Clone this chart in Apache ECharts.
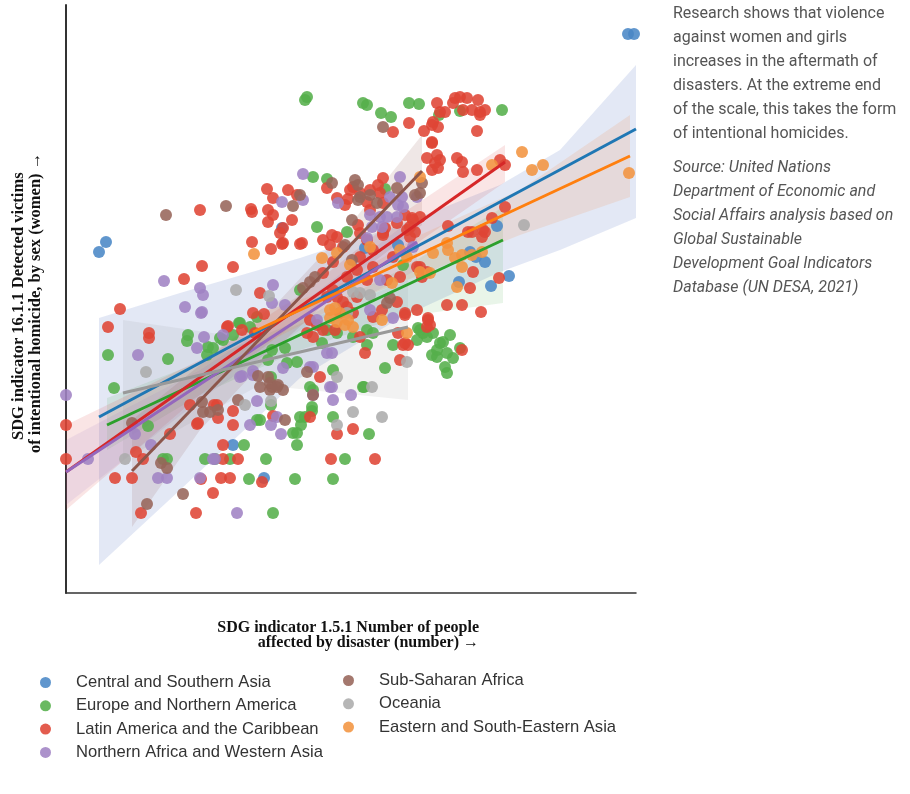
<!DOCTYPE html>
<html><head><meta charset="utf-8">
<script src="https://cdn.jsdelivr.net/npm/echarts@6/dist/echarts.min.js"></script>
<style>html,body{margin:0;padding:0;background:#fff}#c{width:910px;height:794px}</style>
</head><body><div id="c"></div>
<script>
// Region names (legend columns)
const legendCol1 = ['Central and Southern Asia','Europe and Northern America','Latin America and the Caribbean','Northern Africa and Western Asia'];
const legendCol2 = ['Sub-Saharan Africa','Oceania','Eastern and South-Eastern Asia'];

// Scatter values [disaster-affected index, homicide index] (arbitrary unlabeled units)
const csaPoints = [[99,348],[106,358],[628,566],[634,566],[282,372],[233,155],[264,122],[497,374],[470,348],[476,343],[485,338],[459,318],[491,314],[509,324],[398,355],[365,352]];
const enaPoints = [[305,500],[307,503],[363,497],[367,495],[381,487],[391,483],[409,497],[419,496],[460,489],[502,490],[439,485],[313,423],[327,421],[317,373],[347,368],[385,411],[188,265],[187,259],[240,277],[250,273],[220,262],[208,253],[257,283],[108,245],[168,241],[114,212],[148,174],[163,141],[167,141],[205,141],[230,141],[244,155],[249,121],[266,141],[273,87],[257,180],[271,195],[271,223],[310,213],[364,213],[312,189],[305,183],[301,175],[297,167],[293,167],[297,155],[333,183],[369,166],[215,141],[345,141],[295,121],[333,121],[300,310],[239,277],[233,265],[223,260],[213,252],[207,245],[285,252],[272,250],[297,238],[268,240],[287,237],[322,257],[337,267],[327,270],[353,263],[367,270],[373,267],[367,255],[393,255],[385,232],[363,213],[333,230],[313,210],[312,193],[300,183],[260,180],[420,270],[433,267],[427,263],[437,243],[440,257],[417,260],[418,272],[423,267],[450,265],[443,258],[437,250],[432,245],[447,247],[453,242],[460,252],[445,233],[447,227],[403,335]];
const lacPoints = [[455,502],[460,503],[467,502],[478,500],[453,497],[437,497],[440,488],[445,488],[463,490],[472,490],[480,488],[485,490],[480,485],[433,478],[438,473],[432,475],[409,477],[393,468],[424,469],[477,469],[432,458],[427,442],[437,445],[440,440],[435,437],[432,430],[438,432],[457,442],[462,438],[463,428],[477,430],[500,440],[505,435],
[383,422],[378,415],[370,410],[380,407],[353,413],[350,410],[360,407],[327,412],[288,410],[297,405],[273,402],[348,401],[345,395],[337,402],[367,398],[370,390],[383,397],[405,385],[397,377],[412,382],[420,383],[410,373],[415,368],[385,372],[383,367],[358,375],[360,367],[367,360],[332,365],[323,360],[302,357],[283,372],[280,367],[283,357],[292,380],[273,385],[448,374],[468,368],[483,370],[505,393],[482,363],
[267,411],[251,391],[252,388],[268,390],[268,378],[200,390],[252,358],[271,351],[202,334],[233,333],[184,321],[120,291],[108,273],[149,267],[149,262],[260,307],[253,287],[264,286],[228,274],[242,270],
[66,175],[66,141],[136,148],[143,141],[115,122],[132,122],[141,87],[170,166],[190,195],[197,176],[214,195],[218,182],[233,189],[233,175],[223,155],[223,141],[238,141],[221,122],[230,122],[262,118],[213,107],[196,87],[273,184],[217,195],[198,177],[310,183],[337,166],[353,171],[331,141],[375,141],[201,121],
[282,356],[300,356],[227,273],[255,267],[310,280],[317,275],[307,267],[313,263],[323,270],[335,270],[337,303],[343,298],[333,310],[347,293],[357,303],[360,263],[373,283],[382,290],[397,298],[405,285],[417,290],[398,267],[403,255],[408,255],[400,240],[365,247],[320,223],[428,280],[427,273],
[337,363],[330,355],[343,353],[360,343],[373,350],[383,365],[393,343],[333,338],[323,327],[347,323],[367,320],[387,320],[400,323],[417,333],[373,333],[357,330],[327,303],[340,287],[353,287],
[432,457],[492,382],[485,368],[472,368],[413,380],[407,370],[410,363],[420,333],[427,328],[422,323],[473,328],[470,312],[499,322],[447,295],[462,295],[481,288],[405,287],[428,282],[430,275],[405,257],[462,250]];
const nawaPoints = [[164,319],[200,312],[203,305],[185,293],[201,287],[273,315],[272,297],[282,398],[204,263],[223,265],[66,205],[138,245],[197,252],[88,141],[135,166],[151,155],[158,122],[167,122],[200,122],[242,224],[253,229],[257,199],[250,175],[271,175],[277,183],[213,141],[237,87],[281,166],[332,213],[333,200],[351,205],[313,205],[215,141],[202,288],[285,295],[317,280],[327,247],[332,247],[310,233],[313,233],[283,232],[253,225],[240,223],[330,213],[370,290],[380,320],[393,282],[413,353],[303,426],[303,400],[338,397],[400,423],[402,403],[417,403],[398,395],[390,403],[397,383],[370,385],[380,383],[387,383],[372,373],[382,373],[367,362],[403,393]];
const ssaPoints = [[166,385],[226,394],[383,473],[300,405],[293,394],[332,417],[355,420],[358,415],[360,403],[358,400],[370,405],[377,397],[397,412],[415,405],[420,407],[352,380],[422,417],[310,318],[303,312],[315,323],[390,302],[387,297],[307,228],[268,223],[272,213],[278,215],[283,210],[270,210],[260,213],[313,205],[238,200],[285,180],[203,188],[210,188],[218,190],[202,198],[258,224],[270,217],[277,213],[161,137],[167,132],[183,106],[147,96],[132,177],[345,355],[352,340]];
const ocePoints = [[236,310],[269,304],[146,228],[125,141],[245,195],[271,199],[337,223],[372,213],[353,188],[382,183],[337,175],[407,238],[353,308],[360,307],[370,305],[347,287],[524,375]];
const eseaPoints = [[254,346],[322,342],[350,335],[337,347],[370,353],[400,350],[407,343],[420,328],[330,290],[335,292],[340,287],[330,282],[337,278],[345,275],[353,273],[348,280],[382,280],[407,267],[430,327],[420,423],[492,435],[522,448],[532,430],[543,435],[629,427],[433,347],[447,357],[448,350],[455,342],[462,345],[462,333],[472,345],[482,348],[457,313],[392,317]];

// Regression fit endpoints
const csaFit = [[99,183],[636,471]];
const enaFit = [[107,175],[503,360]];
const lacFit = [[66,128],[505,438]];
const nawaFit = [[66,128],[417,358]];
const ssaFit = [[132,129],[422,429]];
const oceFit = [[123,207],[408,273]];
const eseaFit = [[253,268],[630,444]];

// Confidence bands: x, lower, upper
const csaBandX = [99,180,300,400,500,560,636];
const csaBandLo = [35,110,222,282,328,350,382];
const csaBandHi = [282,307,342,375,415,450,535];
const enaBandX = [107,200,300,400,503];
const enaBandLo = [150,205,250,283,297];
const enaBandHi = [202,238,280,330,393];
const lacBandX = [66,200,300,400,505];
const lacBandLo = [90,205,280,345,418];
const lacBandHi = [175,240,305,385,455];
const nawaBandX = [66,200,300,417];
const nawaBandLo = [95,200,270,330];
const nawaBandHi = [160,230,295,385];
const ssaBandX = [132,200,280,350,422];
const ssaBandLo = [73,170,255,320,375];
const ssaBandHi = [180,235,300,375,465];
const oceBandX = [123,260,408];
const oceBandLo = [140,215,200];
const oceBandHi = [280,260,320];
const eseaBandX = [253,330,420,520,630];
const eseaBandLo = [250,290,325,365,403];
const eseaBandHi = [285,310,365,410,485];

const groups = [
  {name:legendCol1[0], pts:csaPoints, fit:csaFit, bx:csaBandX, lo:csaBandLo, hi:csaBandHi, dot:'#4a88c6', line:'#1f77b4', band:'rgba(70,100,190,0.15)'},
  {name:legendCol1[1], pts:enaPoints, fit:enaFit, bx:enaBandX, lo:enaBandLo, hi:enaBandHi, dot:'#55af4b', line:'#2ca02c', band:'rgba(44,160,44,0.10)'},
  {name:legendCol1[2], pts:lacPoints, fit:lacFit, bx:lacBandX, lo:lacBandLo, hi:lacBandHi, dot:'#df4536', line:'#d62728', band:'rgba(214,39,40,0.12)'},
  {name:legendCol1[3], pts:nawaPoints, fit:nawaFit, bx:nawaBandX, lo:nawaBandLo, hi:nawaBandHi, dot:'#a083c4', line:'#9467bd', band:'rgba(148,103,189,0.12)'},
  {name:legendCol2[0], pts:ssaPoints, fit:ssaFit, bx:ssaBandX, lo:ssaBandLo, hi:ssaBandHi, dot:'#97655a', line:'#8c564b', band:'rgba(140,86,75,0.14)'},
  {name:legendCol2[1], pts:ocePoints, fit:oceFit, bx:oceBandX, lo:oceBandLo, hi:oceBandHi, dot:'#acacac', line:'#999999', band:'rgba(127,127,127,0.10)'},
  {name:legendCol2[2], pts:eseaPoints, fit:eseaFit, bx:eseaBandX, lo:eseaBandLo, hi:eseaBandHi, dot:'#f39440', line:'#ff7f0e', band:'rgba(240,130,50,0.14)'}
];

const series = [];
groups.forEach(g => {
  series.push({
    type:'custom', name:g.name+' band', silent:true, z:1,
    data: g.bx.map((x,i)=>[x, g.lo[i], g.hi[i]]),
    encode:{x:0, y:[1,2]},
    renderItem:(params, api) => {
      if (params.dataIndex !== 0) return null;
      const pts = [];
      for (let i=0;i<g.bx.length;i++) pts.push(api.coord([g.bx[i], g.hi[i]]));
      for (let i=g.bx.length-1;i>=0;i--) pts.push(api.coord([g.bx[i], g.lo[i]]));
      return {type:'polygon', shape:{points:pts}, style:{fill:g.band}};
    }
  });
});
groups.forEach(g => {
  series.push({
    type:'scatter', name:g.name, data:g.pts, symbol:'circle', symbolSize:12, z:2,
    itemStyle:{color:g.dot, opacity:0.88}
  });
});
groups.forEach(g => {
  series.push({
    type:'line', name:g.name+' fit', data:g.fit, showSymbol:false, silent:true, z:3,
    lineStyle:{color:g.line, width:3}, itemStyle:{color:g.line}
  });
});

const legendText = {fontFamily:'Liberation Sans', fontSize:16.6, color:'#333', lineHeight:16, padding:[0,0,0,20]};
const chart = echarts.init(document.getElementById('c'), null, {renderer:'canvas'});
chart.setOption({
  animation:false,
  grid:{left:66, right:274, top:5, bottom:201},
  xAxis:{type:'value', min:66, max:636, axisLine:{show:true, lineStyle:{color:'#333', width:1.5}}, axisTick:{show:false}, axisLabel:{show:false}, splitLine:{show:false}},
  yAxis:{type:'value', min:7, max:595, axisLine:{show:true, lineStyle:{color:'#333', width:2}}, axisTick:{show:false}, axisLabel:{show:false}, splitLine:{show:false}},
  legend:[
    {data:legendCol1, orient:'vertical', left:40, top:674, padding:0, icon:'circle', itemWidth:11, itemHeight:11, itemGap:6.3, textStyle:legendText},
    {data:legendCol2, orient:'vertical', left:343, top:672, padding:0, icon:'circle', itemWidth:11, itemHeight:11, itemGap:6.3, textStyle:legendText}
  ],
  graphic:[
    {type:'text', left:673, top:2, style:{text:'Research shows that violence\nagainst women and girls\nincreases in the aftermath of\ndisasters. At the extreme end\nof the scale, this takes the form\nof intentional homicides.', font:'16px Roboto', lineHeight:24, fill:'#555'}},
    {type:'text', left:673, top:156, style:{text:'Source: United Nations\nDepartment of Economic and\nSocial Affairs analysis based on\nGlobal Sustainable\nDevelopment Goal Indicators\nDatabase (UN DESA, 2021)', font:'italic 16px Roboto', lineHeight:24, fill:'#555'}},
    {type:'text', x:479, y:635, style:{text:'SDG indicator 1.5.1 Number of people\naffected by disaster (number) \u2192', font:'bold 16px "Liberation Serif"', lineHeight:15, fill:'#111', textAlign:'right', textVerticalAlign:'middle'}},
    {type:'text', x:19, y:440, rotation:Math.PI/2, style:{text:'SDG indicator 16.1.1 Detected victims', font:'bold 16.5px "Liberation Serif"', fill:'#111', textAlign:'left', textVerticalAlign:'middle'}},
    {type:'text', x:36, y:453, rotation:Math.PI/2, style:{text:'of intentional homicide, by sex (women) \u2192', font:'bold 16.5px "Liberation Serif"', fill:'#111', textAlign:'left', textVerticalAlign:'middle'}}
  ],
  series:series
});
</script>
</body></html>
